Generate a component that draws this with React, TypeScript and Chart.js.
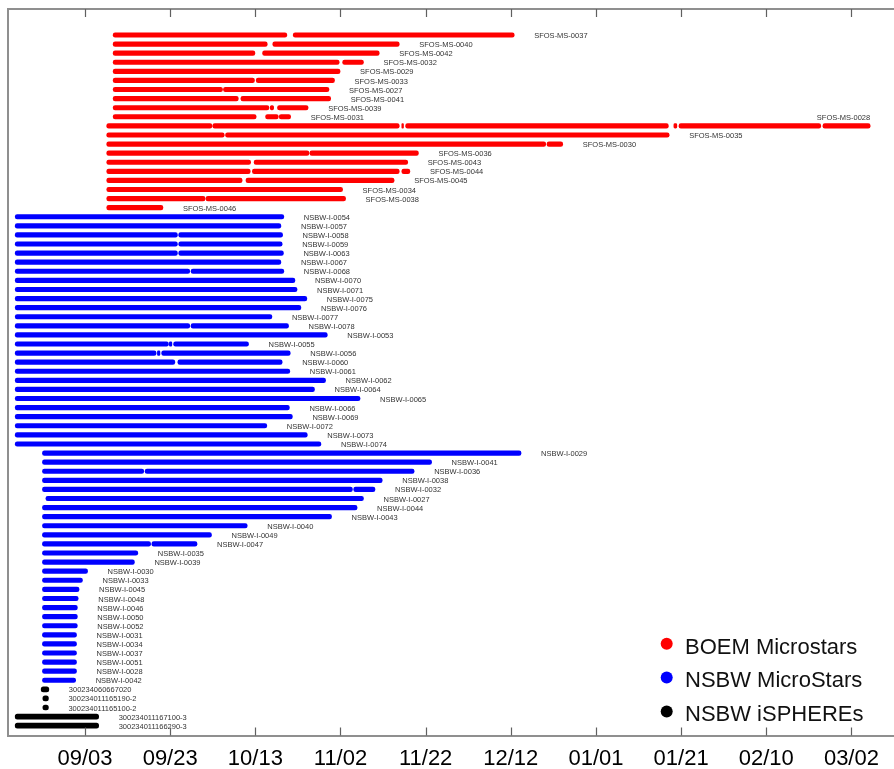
import { useEffect, useRef } from 'react';
import { Chart, registerables } from 'chart.js';

Chart.register(...registerables);

// x values are days after 09/03
const tickDays = [0, 20, 40, 60, 80, 100, 120, 140, 160, 180];
const tickLabels = ['09/03', '09/23', '10/13', '11/02', '11/22', '12/12', '01/01', '01/21', '02/10', '03/02'];

const legendLabels = ['BOEM Microstars', 'NSBW MicroStars', 'NSBW iSPHEREs'];

const redNames = [
  'SFOS-MS-0037', 'SFOS-MS-0040', 'SFOS-MS-0042', 'SFOS-MS-0032', 'SFOS-MS-0029',
  'SFOS-MS-0033', 'SFOS-MS-0027', 'SFOS-MS-0041', 'SFOS-MS-0039', 'SFOS-MS-0031',
  'SFOS-MS-0028', 'SFOS-MS-0035', 'SFOS-MS-0030', 'SFOS-MS-0036', 'SFOS-MS-0043',
  'SFOS-MS-0044', 'SFOS-MS-0045', 'SFOS-MS-0034', 'SFOS-MS-0038', 'SFOS-MS-0046',
];
const redSegments: number[][][] = [
  [[6.6, 47.4], [48.9, 100.8]],
  [[6.6, 42.8], [44.1, 73.8]],
  [[6.6, 39.9], [41.7, 69.1]],
  [[6.6, 59.7], [60.5, 65.4]],
  [[6.6, 59.9]],
  [[6.6, 39.8], [40.2, 58.6]],
  [[6.6, 32.3], [32.5, 57.3]],
  [[6.6, 36.0], [36.6, 57.7]],
  [[6.6, 43.2], [43.5, 44.3], [45.2, 52.4]],
  [[6.6, 40.2], [42.4, 45.4], [45.6, 48.3]],
  [[5.1, 29.8], [30.0, 73.8], [74.4, 74.8], [75.3, 137.0], [138.3, 139.0], [139.5, 172.8], [173.3, 184.4]],
  [[5.1, 32.7], [33.0, 137.2]],
  [[5.1, 108.2], [108.5, 112.2]],
  [[5.1, 52.6], [52.8, 78.3]],
  [[5.1, 38.9], [39.7, 75.8]],
  [[5.1, 38.8], [39.3, 73.8], [74.4, 76.3]],
  [[5.1, 36.9], [37.8, 72.6]],
  [[5.1, 60.5]],
  [[5.1, 28.2], [28.4, 61.2]],
  [[5.1, 18.3]],
];

const blueNames = [
  'NSBW-I-0054', 'NSBW-I-0057', 'NSBW-I-0058', 'NSBW-I-0059', 'NSBW-I-0063',
  'NSBW-I-0067', 'NSBW-I-0068', 'NSBW-I-0070', 'NSBW-I-0071', 'NSBW-I-0075',
  'NSBW-I-0076', 'NSBW-I-0077', 'NSBW-I-0078', 'NSBW-I-0053', 'NSBW-I-0055',
  'NSBW-I-0056', 'NSBW-I-0060', 'NSBW-I-0061', 'NSBW-I-0062', 'NSBW-I-0064',
  'NSBW-I-0065', 'NSBW-I-0066', 'NSBW-I-0069', 'NSBW-I-0072', 'NSBW-I-0073',
  'NSBW-I-0074',
  'NSBW-I-0029', 'NSBW-I-0041', 'NSBW-I-0036', 'NSBW-I-0038', 'NSBW-I-0032',
  'NSBW-I-0027', 'NSBW-I-0044', 'NSBW-I-0043', 'NSBW-I-0040', 'NSBW-I-0049',
  'NSBW-I-0047', 'NSBW-I-0035', 'NSBW-I-0039', 'NSBW-I-0030', 'NSBW-I-0033',
  'NSBW-I-0045', 'NSBW-I-0048', 'NSBW-I-0046', 'NSBW-I-0050', 'NSBW-I-0052',
  'NSBW-I-0031', 'NSBW-I-0034', 'NSBW-I-0037', 'NSBW-I-0051', 'NSBW-I-0028',
  'NSBW-I-0042',
];
const blueSegments: number[][][] = [
  [[-16.4, 46.7]],
  [[-16.4, 46.0]],
  [[-16.4, 21.7], [22.0, 46.4]],
  [[-16.4, 21.7], [22.0, 46.3]],
  [[-16.4, 21.7], [22.0, 46.6]],
  [[-16.4, 46.0]],
  [[-16.4, 24.6], [24.9, 46.7]],
  [[-16.4, 49.3]],
  [[-16.4, 49.8]],
  [[-16.4, 52.1]],
  [[-16.4, 50.7]],
  [[-16.4, 43.9]],
  [[-16.4, 24.6], [24.9, 47.8]],
  [[-16.4, 56.9]],
  [[-16.4, 19.6], [19.8, 20.4], [20.8, 38.4]],
  [[-16.4, 16.7], [17.0, 17.6], [18.0, 48.2]],
  [[-16.4, 21.1], [21.8, 46.3]],
  [[-16.4, 48.1]],
  [[-16.4, 56.5]],
  [[-16.4, 53.9]],
  [[-16.4, 64.6]],
  [[-16.4, 48.0]],
  [[-16.4, 48.7]],
  [[-16.4, 42.7]],
  [[-16.4, 52.2]],
  [[-16.4, 55.4]],
  [[-10.0, 102.4]],
  [[-10.0, 81.4]],
  [[-10.0, 13.8], [14.1, 77.3]],
  [[-10.0, 69.8]],
  [[-10.0, 62.8], [63.1, 68.1]],
  [[-9.2, 65.4]],
  [[-10.0, 63.9]],
  [[-10.0, 57.9]],
  [[-10.0, 38.1]],
  [[-10.0, 29.7]],
  [[-10.0, 15.4], [15.7, 26.3]],
  [[-10.0, 12.4]],
  [[-10.0, 11.6]],
  [[-10.0, 0.6]],
  [[-10.0, -0.6]],
  [[-10.0, -1.4]],
  [[-10.0, -1.6]],
  [[-10.0, -1.8]],
  [[-10.0, -1.8]],
  [[-10.0, -1.8]],
  [[-10.0, -2.0]],
  [[-10.0, -2.0]],
  [[-10.0, -2.0]],
  [[-10.0, -2.0]],
  [[-10.0, -2.0]],
  [[-10.0, -2.2]],
];

const blackNames = [
  '300234060667020', '300234011165190-2', '300234011165100-2',
  '300234011167100-3', '300234011166290-3',
];
const blackSegments: number[][][] = [
  [[-10.3, -8.5]],
  [[-9.9, -8.6]],
  [[-9.9, -8.6]],
  [[-16.4, 3.2]],
  [[-16.4, 3.2]],
];

const FONT = '"Liberation Sans", Arial, Helvetica, sans-serif';

export default function App() {
  const ref = useRef<HTMLCanvasElement | null>(null);

  useEffect(() => {
    document.body.style.margin = '0';
    document.body.style.overflow = 'hidden';
    const canvas = ref.current;
    if (!canvas) return;

    const groups = [
      { names: redNames, segs: redSegments, color: '#ff0000' },
      { names: blueNames, segs: blueSegments, color: '#0000ff' },
      { names: blackNames, segs: blackSegments, color: '#000000' },
    ];

    let offset = 0;
    const rows: { name: string; segs: number[][] }[] = [];
    const datasets = groups.map((g, gi) => {
      const data: { x: number[]; y: number }[] = [];
      g.segs.forEach((segs, i) => {
        rows.push({ name: g.names[i], segs });
        segs.forEach((s) => data.push({ x: [s[0], s[1]], y: offset + i }));
      });
      offset += g.segs.length;
      return {
        label: legendLabels[gi],
        data,
        backgroundColor: g.color,
        borderWidth: 0,
        borderRadius: 3,
        borderSkipped: false,
        barThickness: gi === 2 ? 5 : 4.5,
        grouped: false,
      } as any;
    });

    const decor = {
      id: 'decor',
      afterDatasetsDraw(chart: any) {
        const { ctx, chartArea, scales } = chart;
        const x = scales.x;
        const y = scales.y;
        ctx.save();
        // row labels
        ctx.font = `7.5px ${FONT}`;
        ctx.fillStyle = '#333';
        ctx.textBaseline = 'middle';
        rows.forEach((r, i) => {
          const end = r.segs[r.segs.length - 1][1];
          const px = x.getPixelForValue(end);
          const py = y.getPixelForValue(i);
          const w = ctx.measureText(r.name).width;
          if (px + 20 + w > chartArea.right - 4) {
            ctx.textAlign = 'right';
            ctx.fillText(r.name, px, py - 8);
          } else {
            ctx.textAlign = 'left';
            ctx.fillText(r.name, px + 20, py + 1);
          }
        });
        // top border
        ctx.strokeStyle = '#8f8f8f';
        ctx.lineWidth = 2;
        ctx.beginPath();
        ctx.moveTo(chartArea.left - 1, chartArea.top);
        ctx.lineTo(chartArea.right, chartArea.top);
        ctx.stroke();
        // inward tick marks
        ctx.strokeStyle = '#606060';
        ctx.lineWidth = 1.2;
        x.ticks.forEach((t: any) => {
          const px = Math.round(x.getPixelForValue(t.value)) + 0.5;
          ctx.beginPath();
          ctx.moveTo(px, chartArea.bottom);
          ctx.lineTo(px, chartArea.bottom - 8);
          ctx.moveTo(px, chartArea.top);
          ctx.lineTo(px, chartArea.top + 8);
          ctx.stroke();
        });
        // legend
        const colors = ['#ff0000', '#0000ff', '#000000'];
        ctx.font = `22px ${FONT}`;
        ctx.textAlign = 'left';
        ctx.textBaseline = 'alphabetic';
        legendLabels.forEach((lab, i) => {
          const base = chartArea.bottom - 82 + i * 33.8;
          ctx.fillStyle = colors[i];
          ctx.beginPath();
          ctx.arc(chartArea.right - 227.3, base - 9.8, 6, 0, Math.PI * 2);
          ctx.fill();
          ctx.fillStyle = '#111';
          ctx.fillText(lab, chartArea.right - 209, base);
        });
        ctx.restore();
      },
    };

    const chart = new Chart(canvas, {
      type: 'bar',
      data: { datasets },
      options: {
        animation: false,
        responsive: false,
        indexAxis: 'y',
        layout: { padding: { left: 8, top: 9, right: 0, bottom: -14 } },
        plugins: { legend: { display: false }, tooltip: { enabled: false } },
        scales: {
          x: {
            type: 'linear',
            position: 'bottom',
            offset: false,
            min: -18.09,
            max: 190.0,
            afterBuildTicks: (axis: any) => {
              axis.ticks = tickDays.map((v) => ({ value: v }));
            },
            grid: { display: false, drawTicks: false, offset: false },
            border: { display: true, color: '#8f8f8f', width: 2 },
            ticks: {
              autoSkip: false,
              maxRotation: 0,
              padding: 10.5,
              color: '#000',
              font: { family: FONT, size: 22 },
              callback: (v: any) => {
                const k = tickDays.indexOf(Number(v));
                return k >= 0 ? tickLabels[k] : '';
              },
            },
          },
          y: {
            type: 'linear',
            reverse: true,
            offset: false,
            min: -2.861,
            max: 77.09,
            grid: { display: false, drawTicks: false, offset: false },
            border: { display: true, color: '#8f8f8f', width: 2 },
            ticks: { display: false },
          },
        },
      } as any,
      plugins: [decor],
    });

    return () => chart.destroy();
  }, []);

  return (
    <div style={{ width: 894, height: 769 }}>
      <canvas ref={ref} width={894} height={769} style={{ display: 'block' }} />
    </div>
  );
}
